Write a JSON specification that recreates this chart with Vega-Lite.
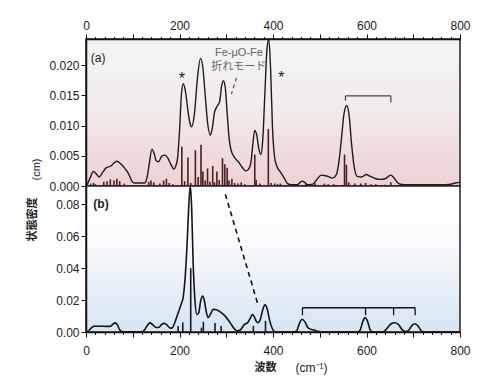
{
  "$schema": "https://vega.github.io/schema/vega-lite/v6.json",
  "padding": {"left": 25, "top": 18, "right": 5, "bottom": 5},
  "spacing": 0,
  "bounds": "flush",
  "config": {
    "font": "Liberation Sans, Noto Sans CJK JP",
    "axis": {"labelFontSize": 12, "labelColor": "#222", "domainColor": "#111", "domainWidth": 1.5, "tickColor": "#111", "tickWidth": 1, "grid": false, "labelFlush": false, "labelOverlap": false},
    "view": {"stroke": "#222", "strokeWidth": 1.5}
  },
  "datasets": {
    "topCurve": [
      {"x":0,"y":0},{"x":2,"y":0.0002},{"x":8,"y":0.0012},{"x":16,"y":0.0024},{"x":22,"y":0.002},{"x":28,"y":0.0015},{"x":36,"y":0.0023},{"x":43,"y":0.003},{"x":53,"y":0.0033},{"x":60,"y":0.0038},{"x":66,"y":0.0041},{"x":74,"y":0.0037},{"x":82,"y":0.003},{"x":88,"y":0.0024},{"x":93,"y":0.0017},{"x":98,"y":0.0008},{"x":103,"y":0.0005},{"x":115,"y":0.0005},{"x":125,"y":0.0005},{"x":130,"y":0.0012},{"x":135,"y":0.0035},{"x":141,"y":0.0061},{"x":146,"y":0.0053},{"x":150,"y":0.0042},{"x":155,"y":0.004},{"x":162,"y":0.0049},{"x":169,"y":0.0051},{"x":176,"y":0.0045},{"x":182,"y":0.0035},{"x":188,"y":0.0028},{"x":192,"y":0.0033},{"x":196,"y":0.0047},{"x":200,"y":0.009},{"x":204,"y":0.015},{"x":208,"y":0.0169},{"x":213,"y":0.0155},{"x":218,"y":0.0125},{"x":222,"y":0.0105},{"x":226,"y":0.0098},{"x":232,"y":0.012},{"x":238,"y":0.0175},{"x":245,"y":0.0211},{"x":250,"y":0.0195},{"x":255,"y":0.015},{"x":260,"y":0.0105},{"x":266,"y":0.0084},{"x":270,"y":0.0095},{"x":275,"y":0.0122},{"x":280,"y":0.0131},{"x":286,"y":0.014},{"x":290,"y":0.0165},{"x":294,"y":0.0174},{"x":298,"y":0.0162},{"x":302,"y":0.012},{"x":306,"y":0.008},{"x":310,"y":0.006},{"x":318,"y":0.0047},{"x":326,"y":0.004},{"x":334,"y":0.0031},{"x":342,"y":0.0025},{"x":348,"y":0.0028},{"x":353,"y":0.004},{"x":357,"y":0.007},{"x":361,"y":0.0092},{"x":365,"y":0.0085},{"x":370,"y":0.006},{"x":374,"y":0.0052},{"x":378,"y":0.0075},{"x":383,"y":0.016},{"x":387,"y":0.0225},{"x":391,"y":0.0243},{"x":395,"y":0.019},{"x":399,"y":0.0095},{"x":403,"y":0.005},{"x":408,"y":0.0033},{"x":416,"y":0.0023},{"x":424,"y":0.0013},{"x":431,"y":0.0004},{"x":440,"y":0.0002},{"x":452,"y":0.0002},{"x":458,"y":0.0006},{"x":463,"y":0.0008},{"x":468,"y":0.0006},{"x":474,"y":0.0002},{"x":485,"y":0.0003},{"x":495,"y":0.0012},{"x":503,"y":0.0018},{"x":512,"y":0.0017},{"x":520,"y":0.0015},{"x":527,"y":0.0013},{"x":535,"y":0.0018},{"x":541,"y":0.004},{"x":546,"y":0.0075},{"x":552,"y":0.012},{"x":558,"y":0.0133},{"x":563,"y":0.0115},{"x":568,"y":0.007},{"x":573,"y":0.0035},{"x":580,"y":0.0016},{"x":590,"y":0.0015},{"x":599,"y":0.0019},{"x":608,"y":0.0016},{"x":620,"y":0.0012},{"x":630,"y":0.0011},{"x":640,"y":0.0012},{"x":647,"y":0.0016},{"x":652,"y":0.0018},{"x":658,"y":0.0014},{"x":665,"y":0.0007},{"x":672,"y":0.0003},{"x":690,"y":0.0002},{"x":720,"y":0.0002},{"x":760,"y":0.0002},{"x":780,"y":0.0003},{"x":790,"y":0.0005},{"x":800,"y":0.0006}
    ],
    "topSticks": [
      {"x":10,"y":0.0004},{"x":16,"y":0.0005},{"x":20,"y":0.0003},{"x":38,"y":0.0007},{"x":45,"y":0.0008},{"x":52,"y":0.0011},{"x":60,"y":0.0009},{"x":66,"y":0.0012},{"x":72,"y":0.0008},{"x":82,"y":0.0004},
      {"x":134,"y":0.0007},{"x":139,"y":0.0009},{"x":145,"y":0.0006},{"x":158,"y":0.0004},{"x":166,"y":0.0009},{"x":172,"y":0.0012},{"x":178,"y":0.0005},{"x":186,"y":0.0003},
      {"x":205,"y":0.0065},{"x":211,"y":0.0008},{"x":218,"y":0.0047},{"x":224,"y":0.0005},{"x":234,"y":0.0059},{"x":240,"y":0.0015},{"x":246,"y":0.0068},{"x":250,"y":0.0024},{"x":255,"y":0.0009},{"x":260,"y":0.0029},{"x":265,"y":0.0007},{"x":271,"y":0.0033},{"x":275,"y":0.0006},{"x":280,"y":0.0024},{"x":285,"y":0.001},{"x":292,"y":0.0046},{"x":297,"y":0.0036},{"x":302,"y":0.003},{"x":306,"y":0.0009},{"x":312,"y":0.0012},{"x":318,"y":0.0005},{"x":325,"y":0.0004},{"x":332,"y":0.0006},{"x":340,"y":0.0003},
      {"x":361,"y":0.0052},{"x":364,"y":0.001},{"x":372,"y":0.0004},{"x":390,"y":0.0094},{"x":396,"y":0.0005},{"x":404,"y":0.0004},{"x":410,"y":0.0003},{"x":416,"y":0.0004},
      {"x":445,"y":0.0002},{"x":470,"y":0.0003},{"x":490,"y":0.0004},{"x":510,"y":0.0004},{"x":518,"y":0.0003},{"x":530,"y":0.0003},{"x":553,"y":0.0052},{"x":557,"y":0.0035},{"x":562,"y":0.0006},{"x":575,"y":0.0004},{"x":588,"y":0.0004},{"x":598,"y":0.0005},{"x":610,"y":0.0003},{"x":620,"y":0.0003},{"x":640,"y":0.0002},{"x":652,"y":0.0006}
    ],
    "topBrackets": [
      {"x":555,"y":0.0149,"x2":652,"y2":0.0149},{"x":555,"y":0.0149,"x2":555,"y2":0.0141},{"x":652,"y":0.0149,"x2":652,"y2":0.0138}
    ],
    "topDash": [{"x":322,"y":0.0179,"x2":311,"y2":0.0152}],
    "topLabels": [
      {"x":26,"y":0.0212,"t":"(a)","k":"panel"},
      {"x":205,"y":0.0177,"t":"*","k":"star"},
      {"x":418,"y":0.0178,"t":"*","k":"star"},
      {"x":327,"y":0.022,"t":"Fe-μO-Fe","k":"note"},
      {"x":327,"y":0.0197,"t":"折れモード","k":"note"}
    ],
    "botCurve": [
      {"x":0,"y":0},{"x":5,"y":0.0005},{"x":12,"y":0.0028},{"x":18,"y":0.0037},{"x":30,"y":0.0036},{"x":46,"y":0.0035},{"x":52,"y":0.0035},{"x":58,"y":0.005},{"x":62,"y":0.0057},{"x":67,"y":0.0045},{"x":73,"y":0.001},{"x":80,"y":0.0001},{"x":118,"y":0.0001},{"x":125,"y":0.0012},{"x":131,"y":0.004},{"x":137,"y":0.0057},{"x":143,"y":0.0045},{"x":150,"y":0.0028},{"x":156,"y":0.003},{"x":162,"y":0.0048},{"x":167,"y":0.0054},{"x":173,"y":0.0045},{"x":180,"y":0.0024},{"x":185,"y":0.0027},{"x":190,"y":0.006},{"x":196,"y":0.011},{"x":203,"y":0.017},{"x":208,"y":0.022},{"x":213,"y":0.038},{"x":217,"y":0.06},{"x":220,"y":0.08},{"x":223,"y":0.092},{"x":226,"y":0.078},{"x":229,"y":0.045},{"x":233,"y":0.02},{"x":237,"y":0.011},{"x":241,"y":0.012},{"x":245,"y":0.019},{"x":249,"y":0.0225},{"x":253,"y":0.02},{"x":257,"y":0.013},{"x":261,"y":0.009},{"x":266,"y":0.011},{"x":272,"y":0.0142},{"x":279,"y":0.014},{"x":286,"y":0.0128},{"x":292,"y":0.0115},{"x":298,"y":0.0098},{"x":305,"y":0.0072},{"x":312,"y":0.0042},{"x":318,"y":0.0018},{"x":323,"y":0.0007},{"x":330,"y":0.0012},{"x":338,"y":0.0045},{"x":346,"y":0.006},{"x":352,"y":0.009},{"x":356,"y":0.011},{"x":360,"y":0.0095},{"x":364,"y":0.0068},{"x":368,"y":0.0058},{"x":373,"y":0.008},{"x":378,"y":0.014},{"x":383,"y":0.017},{"x":388,"y":0.014},{"x":393,"y":0.007},{"x":398,"y":0.0025},{"x":403,"y":0.0003},{"x":410,"y":0},{"x":440,"y":0},{"x":450,"y":0.0005},{"x":456,"y":0.005},{"x":462,"y":0.008},{"x":468,"y":0.0065},{"x":474,"y":0.003},{"x":480,"y":0.0018},{"x":488,"y":0.0012},{"x":496,"y":0.0004},{"x":505,"y":0},{"x":580,"y":0},{"x":586,"y":0.001},{"x":592,"y":0.0065},{"x":597,"y":0.009},{"x":602,"y":0.007},{"x":607,"y":0.002},{"x":613,"y":0},{"x":635,"y":0},{"x":643,"y":0.002},{"x":652,"y":0.005},{"x":660,"y":0.0058},{"x":668,"y":0.0048},{"x":676,"y":0.0015},{"x":684,"y":0.0003},{"x":690,"y":0.001},{"x":697,"y":0.004},{"x":704,"y":0.0052},{"x":711,"y":0.0035},{"x":718,"y":0.0005},{"x":725,"y":0},{"x":800,"y":0}
    ],
    "botSticks": [
      {"x":197,"y":0.0038},{"x":207,"y":0.006},{"x":224,"y":0.04},{"x":247,"y":0.0027},{"x":251,"y":0.0064},{"x":276,"y":0.0056},{"x":289,"y":0.0038},{"x":358,"y":0.0038},{"x":384,"y":0.007}
    ],
    "botBrackets": [
      {"x":463,"y":0.0152,"x2":704,"y2":0.0152},{"x":463,"y":0.0152,"x2":463,"y2":0.0105},{"x":598,"y":0.0152,"x2":598,"y2":0.0105},{"x":658,"y":0.0152,"x2":658,"y2":0.0105},{"x":704,"y":0.0152,"x2":704,"y2":0.0105}
    ],
    "botDash": [{"x":298,"y":0.0863,"x2":367,"y2":0.018}],
    "botLabels": [{"x":32,"y":0.08,"t":"(b)"}]
  },
  "vconcat": [
    {
      "width": 374,
      "height": 147,
      "view": {"fill": {"gradient": "linear", "x1": 0, "y1": 0, "x2": 0, "y2": 1, "stops": [{"offset": 0, "color": "#f4f4f4"}, {"offset": 0.45, "color": "#f3ecec"}, {"offset": 1, "color": "#ecd2d3"}]}},
      "encoding": {
        "x": {"field": "x", "type": "quantitative", "scale": {"domain": [0, 800], "nice": false, "zero": false},
          "axis": {"orient": "top", "values": [0,20,40,60,80,100,120,140,160,180,200,220,240,260,280,300,320,340,360,380,400,420,440,460,480,500,520,540,560,580,600,620,640,660,680,700,720,740,760,780,800],
            "labelExpr": "datum.value % 200 === 0 ? datum.label : ''", "tickSize": {"condition": {"test": "datum.value % 100 === 0", "value": 5}, "value": 2.5}, "labelPadding": 2,
            "title": "(cm⁻¹)", "titleFontSize": 12, "titleFontWeight": "normal", "titleColor": "#222", "titleX": 225, "titleY": 328, "titleAlign": "center", "titleBaseline": "middle", "titleAngle": 0}},
        "y": {"field": "y", "type": "quantitative", "scale": {"domain": [0, 0.0243], "nice": false, "zero": false},
          "axis": {"values": [0, 0.005, 0.01, 0.015, 0.02], "format": ".3f", "tickSize": 5, "labelPadding": 2,
            "title": "(cm)", "titleFontSize": 11, "titleFontWeight": "normal", "titleColor": "#222", "titleX": -50, "titleY": 130, "titleAngle": -90, "titleAlign": "center", "titleBaseline": "middle"}}
      },
      "layer": [
        {"data": {"name": "topSticks"}, "mark": {"type": "rule", "color": "#4a1e22", "strokeWidth": 1.6}, "encoding": {"y2": {"datum": 0}}},
        {"data": {"name": "topCurve"}, "mark": {"type": "line", "color": "#1c1c1c", "strokeWidth": 1.4, "interpolate": "monotone"}, "encoding": {}},
        {"data": {"name": "topBrackets"}, "mark": {"type": "rule", "color": "#444", "strokeWidth": 1.2}, "encoding": {"x2": {"field": "x2"}, "y2": {"field": "y2"}}},
        {"data": {"name": "topDash"}, "mark": {"type": "rule", "color": "#555", "strokeWidth": 1.2, "strokeDash": [4, 3]}, "encoding": {"x2": {"field": "x2"}, "y2": {"field": "y2"}}},
        {"data": {"name": "topLabels"}, "transform": [{"filter": "datum.k === 'panel'"}], "mark": {"type": "text", "fontSize": 12, "color": "#222", "align": "center", "baseline": "middle"}, "encoding": {"text": {"field": "t"}}},
        {"data": {"name": "topLabels"}, "transform": [{"filter": "datum.k === 'star'"}], "mark": {"type": "text", "fontSize": 16, "color": "#222", "align": "center", "baseline": "middle"}, "encoding": {"text": {"field": "t"}}},
        {"data": {"name": "topLabels"}, "transform": [{"filter": "datum.k === 'note'"}], "mark": {"type": "text", "fontSize": 11, "color": "#666", "align": "center", "baseline": "middle"}, "encoding": {"text": {"field": "t"}}}
      ]
    },
    {
      "width": 374,
      "height": 146,
      "view": {"fill": {"gradient": "linear", "x1": 0, "y1": 0, "x2": 0, "y2": 1, "stops": [{"offset": 0, "color": "#ffffff"}, {"offset": 0.35, "color": "#fbfcfe"}, {"offset": 1, "color": "#d7e4f1"}]}},
      "encoding": {
        "x": {"field": "x", "type": "quantitative", "scale": {"domain": [0, 800], "nice": false, "zero": false},
          "axis": {"orient": "bottom", "values": [0,20,40,60,80,100,120,140,160,180,200,220,240,260,280,300,320,340,360,380,400,420,440,460,480,500,520,540,560,580,600,620,640,660,680,700,720,740,760,780,800],
            "labelExpr": "datum.value % 200 === 0 ? datum.label : ''", "tickSize": {"condition": {"test": "datum.value % 100 === 0", "value": 5}, "value": 2.5}, "labelPadding": 8,
            "title": "波数", "titleFontSize": 11, "titleFontWeight": "bold", "titleColor": "#222", "titleX": 179, "titleY": 35, "titleAlign": "center", "titleBaseline": "middle"}},
        "y": {"field": "y", "type": "quantitative", "scale": {"domain": [0, 0.0915], "nice": false, "zero": false},
          "axis": {"values": [0, 0.02, 0.04, 0.06, 0.08], "format": ".2f", "tickSize": 5, "labelPadding": 2,
            "title": "状態密度", "titleFontSize": 11, "titleFontWeight": "bold", "titleColor": "#222", "titleX": -54, "titleY": 33, "titleAngle": -90, "titleAlign": "center", "titleBaseline": "middle"}}
      },
      "layer": [
        {"data": {"name": "botSticks"}, "mark": {"type": "rule", "color": "#141a26", "strokeWidth": 1.6}, "encoding": {"y2": {"datum": 0}}},
        {"data": {"name": "botCurve"}, "mark": {"type": "line", "color": "#141414", "strokeWidth": 1.6, "interpolate": "monotone"}, "encoding": {}},
        {"data": {"name": "botBrackets"}, "mark": {"type": "rule", "color": "#111", "strokeWidth": 1.3}, "encoding": {"x2": {"field": "x2"}, "y2": {"field": "y2"}}},
        {"data": {"name": "botDash"}, "mark": {"type": "rule", "color": "#111", "strokeWidth": 1.6, "strokeDash": [5, 4]}, "encoding": {"x2": {"field": "x2"}, "y2": {"field": "y2"}}},
        {"data": {"name": "botLabels"}, "mark": {"type": "text", "fontSize": 12, "fontWeight": "bold", "color": "#222", "align": "center", "baseline": "middle"}, "encoding": {"text": {"field": "t"}}}
      ]
    }
  ]
}
